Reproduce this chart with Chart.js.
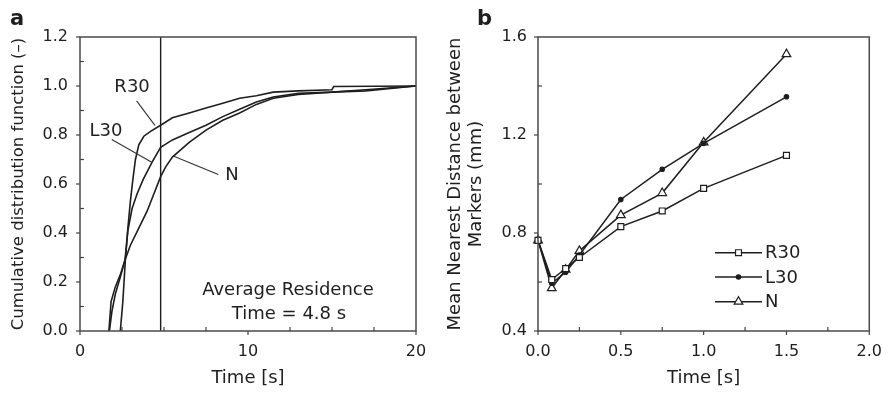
<!DOCTYPE html>
<html><head><meta charset="utf-8">
<script src="https://cdn.jsdelivr.net/npm/chart.js@4.4.1/dist/chart.umd.min.js"></script>
<style>
html,body{margin:0;padding:0;background:#fff;width:893px;height:394px;overflow:hidden}
#a{position:absolute;left:0;top:0}
#b{position:absolute;left:440px;top:0}
</style></head><body>
<canvas id="a" width="445" height="394"></canvas>
<canvas id="b" width="453" height="394"></canvas>
<script>
// ---------- Panel a: cumulative distribution function ----------
const r30Time = [2.4, 2.55, 2.7, 2.85, 3.0, 3.15, 3.3, 3.5, 3.8, 4.2, 4.8, 5.5, 6.5, 7.5, 8.5, 9.5, 10.5, 11.5, 13, 15, 15.1, 20];
const r30Cdf  = [0, 0.12, 0.29, 0.42, 0.53, 0.62, 0.70, 0.76, 0.795, 0.815, 0.84, 0.87, 0.89, 0.91, 0.93, 0.95, 0.96, 0.975, 0.98, 0.985, 0.998, 1.0];
const l30Time = [1.75, 1.9, 2.1, 2.4, 2.68, 2.85, 3.1, 3.4, 3.77, 4.3, 4.8, 5.5, 6.5, 7.5, 8.5, 9.5, 10.5, 11.5, 13, 15, 17, 20];
const l30Cdf  = [0, 0.08, 0.15, 0.22, 0.29, 0.41, 0.50, 0.56, 0.62, 0.69, 0.75, 0.78, 0.81, 0.84, 0.875, 0.905, 0.935, 0.955, 0.97, 0.975, 0.985, 1.0];
const nTime   = [1.72, 1.85, 2.1, 2.4, 2.68, 3.0, 3.5, 4.0, 4.4, 4.8, 5.1, 5.5, 6.5, 7.5, 8.5, 9.5, 10.5, 11.5, 13, 15, 17, 20];
const nCdf    = [0, 0.12, 0.18, 0.23, 0.29, 0.35, 0.42, 0.49, 0.56, 0.63, 0.67, 0.71, 0.77, 0.82, 0.86, 0.89, 0.925, 0.95, 0.965, 0.975, 0.98, 1.0];
const avgResidence = 4.8;
const aXTickLabels = ['0', '10', '20'];
const aYTickLabels = ['0.0', '0.2', '0.4', '0.6', '0.8', '1.0', '1.2'];

// ---------- Panel b: mean nearest distance ----------
const bTime   = [0, 0.083, 0.167, 0.25, 0.5, 0.75, 1.0, 1.5];
const bR30    = [0.77, 0.61, 0.655, 0.70, 0.826, 0.89, 0.982, 1.117];
const bL30    = [0.77, 0.595, 0.64, 0.71, 0.937, 1.06, 1.166, 1.356];
const bN      = [0.77, 0.575, 0.65, 0.727, 0.873, 0.963, 1.17, 1.53];
const bSeries = ['R30', 'L30', 'N'];
const bXTickLabels = ['0.0', '0.5', '1.0', '1.5', '2.0'];
const bYTickLabels = ['0.4', '0.8', '1.2', '1.6'];

const FONT = "'DejaVu Sans', sans-serif";
const INK = '#1e1e1e';
const pts = (xs, ys) => xs.map((x, i) => ({x: x, y: ys[i]}));

function inwardTicks(chart, scale, isX) {
  const ctx = chart.ctx, ca = chart.chartArea;
  ctx.save();
  ctx.strokeStyle = '#444'; ctx.lineWidth = 1.2;
  scale.ticks.forEach(t => {
    const p = scale.getPixelForValue(t.value);
    const major = t.label !== '' && t.label != null;
    ctx.beginPath();
    if (isX) {
      if (major) { ctx.moveTo(p, ca.bottom); ctx.lineTo(p, ca.bottom + 4); }
      else { ctx.moveTo(p, ca.bottom); ctx.lineTo(p, ca.bottom - 4); }
    } else {
      if (major) { ctx.moveTo(ca.left - 4, p); ctx.lineTo(ca.left, p); }
      else { ctx.moveTo(ca.left, p); ctx.lineTo(ca.left + 4, p); }
    }
    ctx.stroke();
  });
  ctx.restore();
}
const frame = {
  id: 'frame',
  afterDraw(chart) {
    const ctx = chart.ctx, ca = chart.chartArea;
    ctx.save();
    ctx.strokeStyle = '#4a4a4a'; ctx.lineWidth = 1.5;
    ctx.strokeRect(ca.left, ca.top, ca.right - ca.left, ca.bottom - ca.top);
    ctx.restore();
    inwardTicks(chart, chart.scales.x, true);
    inwardTicks(chart, chart.scales.y, false);
    const o = chart.options.plugins.frame;
    ctx.save();
    ctx.fillStyle = INK;
    ctx.font = "bold 21px " + FONT;
    ctx.textAlign = 'left'; ctx.textBaseline = 'alphabetic';
    ctx.fillText(o.letter, o.letterX, 25);
    ctx.restore();
  }
};

function tickCb(labels, digits) {
  return function(v) {
    const s = Number(v).toFixed(digits);
    return labels.includes(s) ? s : '';
  };
}
function axisTitle(text, size, padObj) {
  return {display: true, text: text, color: INK, font: {family: FONT, size: size, lineHeight: 1.17}, padding: padObj};
}

// annotation plugin for panel a (data coordinates)
const annotA = {
  id: 'annotA',
  afterDatasetsDraw(chart) {
    const ctx = chart.ctx, xs = chart.scales.x, ys = chart.scales.y;
    const X = v => xs.getPixelForValue(v), Y = v => ys.getPixelForValue(v);
    ctx.save();
    ctx.strokeStyle = '#333'; ctx.lineWidth = 1.1;
    [[3.37, 0.939, 4.46, 0.839], [1.89, 0.782, 4.27, 0.689], [5.55, 0.714, 8.23, 0.639]].forEach(l => {
      ctx.beginPath(); ctx.moveTo(X(l[0]), Y(l[1])); ctx.lineTo(X(l[2]), Y(l[3])); ctx.stroke();
    });
    ctx.fillStyle = INK;
    ctx.font = "18px " + FONT;
    ctx.textAlign = 'center'; ctx.textBaseline = 'middle';
    ctx.fillText('R30', X(3.1), Y(0.995));
    ctx.fillText('L30', X(1.55), Y(0.815));
    ctx.fillText('N', X(9.05), Y(0.636));
    ctx.fillText('Average Residence', X(12.38), Y(0.165));
    ctx.fillText('Time = ' + avgResidence + ' s', X(12.44), Y(0.068));
    ctx.restore();
  }
};

const lineStyle = {borderColor: INK, borderWidth: 1.6, pointRadius: 0, tension: 0, fill: false};

new Chart(document.getElementById('a'), {
  type: 'line',
  data: {
    datasets: [
      Object.assign({label: 'R30', data: pts(r30Time, r30Cdf)}, lineStyle),
      Object.assign({label: 'L30', data: pts(l30Time, l30Cdf)}, lineStyle),
      Object.assign({label: 'N', data: pts(nTime, nCdf)}, lineStyle),
      Object.assign({label: 'avg', data: [{x: avgResidence, y: 0}, {x: avgResidence, y: 1.2}]}, lineStyle, {borderWidth: 1.4})
    ]
  },
  options: {
    responsive: false, animation: false, devicePixelRatio: 1,
    layout: {padding: {top: 37, right: 29, left: 0, bottom: 0}},
    plugins: {legend: {display: false}, tooltip: {enabled: false},
      frame: {letter: 'a', letterX: 10}},
    scales: {
      x: {type: 'linear', min: 0, max: 20,
        afterFit: s => { s.height = 63; },
        ticks: {stepSize: 2.5, autoSkip: false, maxRotation: 0, padding: 11, color: INK,
          font: {family: FONT, size: 16}, callback: tickCb(aXTickLabels, 0)},
        grid: {display: false, drawTicks: false}, border: {display: false},
        title: axisTitle('Time [s]', 18, {top: 0, bottom: 5})},
      y: {type: 'linear', min: 0, max: 1.2,
        afterFit: s => { s.width = 80; },
        ticks: {stepSize: 0.1, autoSkip: false, padding: 12, color: INK,
          font: {family: FONT, size: 16}, callback: tickCb(aYTickLabels, 1)},
        grid: {display: false, drawTicks: false}, border: {display: false},
        title: {display: true, text: 'Cumulative distribution function (–)', color: INK,
          font: {family: FONT, size: 16.5, lineHeight: 1.2}, padding: {top: 9, bottom: 0}}}
    }
  },
  plugins: [frame, annotA]
});

// legend plugin for panel b
const legendB = {
  id: 'legendB',
  afterDraw(chart) {
    const ctx = chart.ctx;
    const x0 = 275, x1 = 322, xm = 298.5, tx = 325;
    const rows = [252.7, 277, 301.7];
    chart.data.datasets.forEach((ds, i) => {
      const y = rows[i];
      ctx.save();
      ctx.strokeStyle = INK; ctx.lineWidth = 1.5;
      ctx.beginPath(); ctx.moveTo(x0, y); ctx.lineTo(x1, y); ctx.stroke();
      ctx.fillStyle = ds.pointBackgroundColor; ctx.strokeStyle = INK; ctx.lineWidth = 1.2;
      Chart.helpers.drawPoint(ctx, {pointStyle: ds.pointStyle, radius: ds.pointRadius, rotation: 0, borderWidth: 1.2}, xm, y);
      ctx.fillStyle = INK;
      ctx.font = "18px " + FONT;
      ctx.textAlign = 'left'; ctx.textBaseline = 'middle';
      ctx.fillText(ds.label, tx, y + 1);
      ctx.restore();
    });
  }
};

const bStyles = [
  {pointStyle: 'rect', pointRadius: 4.2, pointBackgroundColor: '#fff'},
  {pointStyle: 'circle', pointRadius: 2.2, pointBackgroundColor: INK},
  {pointStyle: 'triangle', pointRadius: 5, pointBackgroundColor: '#fff'}
];
const bValues = [bR30, bL30, bN];

new Chart(document.getElementById('b'), {
  type: 'line',
  data: {
    datasets: bSeries.map((name, i) => Object.assign({
      label: name, data: pts(bTime, bValues[i]),
      borderColor: INK, borderWidth: 1.5, tension: 0, fill: false, clip: false,
      pointBorderColor: INK, pointBorderWidth: 1.2
    }, bStyles[i]))
  },
  options: {
    responsive: false, animation: false, devicePixelRatio: 1,
    layout: {padding: {top: 37, right: 20, left: 0, bottom: 0}},
    plugins: {legend: {display: false}, tooltip: {enabled: false},
      frame: {letter: 'b', letterX: 37}},
    scales: {
      x: {type: 'linear', min: 0, max: 2,
        afterFit: s => { s.height = 63; },
        ticks: {stepSize: 0.25, autoSkip: false, maxRotation: 0, padding: 11, color: INK,
          font: {family: FONT, size: 16}, callback: tickCb(bXTickLabels, 1)},
        grid: {display: false, drawTicks: false}, border: {display: false},
        title: axisTitle('Time [s]', 18, {top: 0, bottom: 5})},
      y: {type: 'linear', min: 0.4, max: 1.6,
        afterFit: s => { s.width = 98; },
        ticks: {stepSize: 0.2, autoSkip: false, padding: 11, color: INK,
          font: {family: FONT, size: 16}, callback: tickCb(bYTickLabels, 1)},
        grid: {display: false, drawTicks: false}, border: {display: false},
        title: {display: true, text: ['Mean Nearest Distance between', 'Markers (mm)'], color: INK,
          font: {family: FONT, size: 18, lineHeight: 1.17}, padding: {top: 5, bottom: 0}}}
    }
  },
  plugins: [frame, legendB]
});
</script>
</body></html>
